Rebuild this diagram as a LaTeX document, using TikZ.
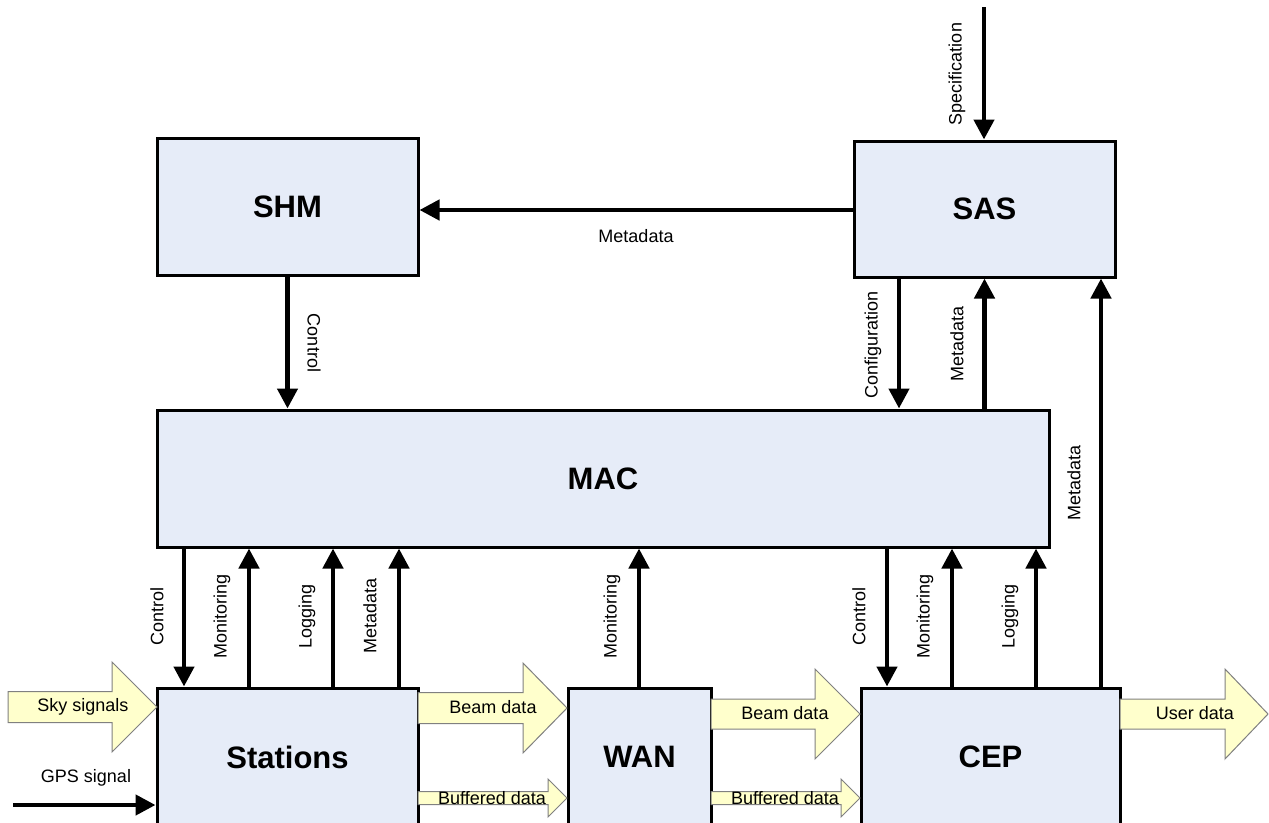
\documentclass[tikz,border=0pt]{standalone}
\usepackage{fontspec}
\setmainfont{Liberation Sans}
\usetikzlibrary{arrows.meta}
\definecolor{boxfill}{HTML}{E6ECF8}
\definecolor{blkfill}{HTML}{FFFFCC}
\definecolor{blkline}{HTML}{808080}
\tikzset{
 box/.style={draw=black, line width=3pt, fill=boxfill, inner sep=0pt, font=\fontsize{31}{36}\selectfont\bfseries},
 arr/.style={line width=4.5pt, -{Triangle[length=20pt,width=20pt]}},
 lbl/.style={inner sep=0pt, font=\fontsize{18}{21}\selectfont},
 vlbl/.style={lbl, rotate=90},
 blk/.style={draw=blkline, line width=1pt, fill=blkfill, line join=miter},
}
\newcommand\blkarrow[6]{% x0,x1,x2,yc,h,H
 \filldraw[blk] (#1,#4-#5) -- (#2,#4-#5) -- (#2,#4-#6) -- (#3,#4) -- (#2,#4+#6) -- (#2,#4+#5) -- (#1,#4+#5) -- cycle;}
\begin{document}
\begin{tikzpicture}[x=1pt,y=-1pt]
\useasboundingbox (0,0) rectangle (1269,822);
\clip (0,0) rectangle (1269,822);
\fill[white] (0,0) rectangle (1269,822);

% boxes
\node[box, minimum width=261pt, minimum height=137pt] (shm) at (287.5,206.5) {SHM};
\node[box, minimum width=261pt, minimum height=136pt] (sas) at (984.5,209) {SAS};
\node[box, minimum width=892pt, minimum height=137pt] (mac) at (603,478.5) {MAC};
\node[box, minimum width=261pt, minimum height=138pt] (stations) at (287.5,757) {Stations};
\node[box, minimum width=143pt, minimum height=138pt] (wan) at (639.5,757) {WAN};
\node[box, minimum width=259pt, minimum height=138pt] (cep) at (990.5,757) {CEP};

% x positions of connectors
\coordinate (xsc) at (184,0);
\coordinate (xsm) at (249,0);
\coordinate (xsl) at (333,0);
\coordinate (xsd) at (399,0);
\coordinate (xwm) at (639,0);
\coordinate (xcc) at (887,0);
\coordinate (xcm) at (952,0);
\coordinate (xcl) at (1036,0);
\coordinate (xcd) at (1101,0);
\coordinate (xcfg) at (899,0);
\coordinate (ym) at (0,210);
\coordinate (spectop) at (984,7);
\coordinate (gpsstart) at (13,805);

% top connectors
\draw[arr] (spectop) -- (spectop |- sas.north);
\draw[arr] (sas.west |- ym) -- (shm.east |- ym);
\draw[arr] (shm.south) -- (shm.south |- mac.north);
\draw[arr] (xcfg |- sas.south) -- (xcfg |- mac.north);
\draw[arr] (sas.south |- mac.north) -- (sas.south);
\draw[arr] (xcd |- cep.north) -- (xcd |- sas.south);

% MAC - Stations
\draw[arr] (xsc |- mac.south) -- (xsc |- stations.north);
\draw[arr] (xsm |- stations.north) -- (xsm |- mac.south);
\draw[arr] (xsl |- stations.north) -- (xsl |- mac.south);
\draw[arr] (xsd |- stations.north) -- (xsd |- mac.south);
% MAC - WAN
\draw[arr] (xwm |- wan.north) -- (xwm |- mac.south);
% MAC - CEP
\draw[arr] (xcc |- mac.south) -- (xcc |- cep.north);
\draw[arr] (xcm |- cep.north) -- (xcm |- mac.south);
\draw[arr] (xcl |- cep.north) -- (xcl |- mac.south);

% GPS
\draw[arr] (gpsstart) -- (gpsstart -| stations.west);

% block arrows
\blkarrow{8}{112}{157}{707}{15.5}{45}
\blkarrow{418}{523}{567}{708}{15.5}{45}
\blkarrow{418}{548}{567}{798}{6.5}{19}
\blkarrow{711}{815}{860}{714}{15}{45}
\blkarrow{711}{841}{860}{798}{6.5}{19}
\blkarrow{1120}{1225}{1268}{714}{15}{45}

% labels
\node[vlbl] (lspec) at (957,74) {Specification};
\node[lbl] (lmeta1) at (636,236) {Metadata};
\node[lbl, rotate=-90] (lctl1) at (314,343) {Control};
\node[vlbl] (lcfg) at (873,345) {Configuration};
\node[vlbl] (lmeta2) at (957,344) {Metadata};
\node[vlbl] (lmeta3) at (1074,483) {Metadata};

\node[vlbl] (lsc) at (157,616) {Control};
\node[vlbl] (lsm) at (222,616) {Monitoring};
\node[vlbl] (lsl) at (307,616) {Logging};
\node[vlbl] (lsd) at (370,616) {Metadata};
\node[vlbl] (lwm) at (612,616) {Monitoring};
\node[vlbl] (lcc) at (859,616) {Control};
\node[vlbl] (lcm) at (925,616) {Monitoring};
\node[vlbl] (lcl) at (1010,616) {Logging};

\node[lbl] (lsky) at (83,707) {Sky signals};
\node[lbl] (lgps) at (86,778) {GPS signal};
\node[lbl] (lbeam1) at (493,707) {Beam data};
\node[lbl] (lbuf1) at (492,798) {Buffered data};
\node[lbl] (lbeam2) at (785,713) {Beam data};
\node[lbl] (lbuf2) at (785,798) {Buffered data};
\node[lbl] (luser) at (1195,713) {User data};
\end{tikzpicture}
\end{document}
